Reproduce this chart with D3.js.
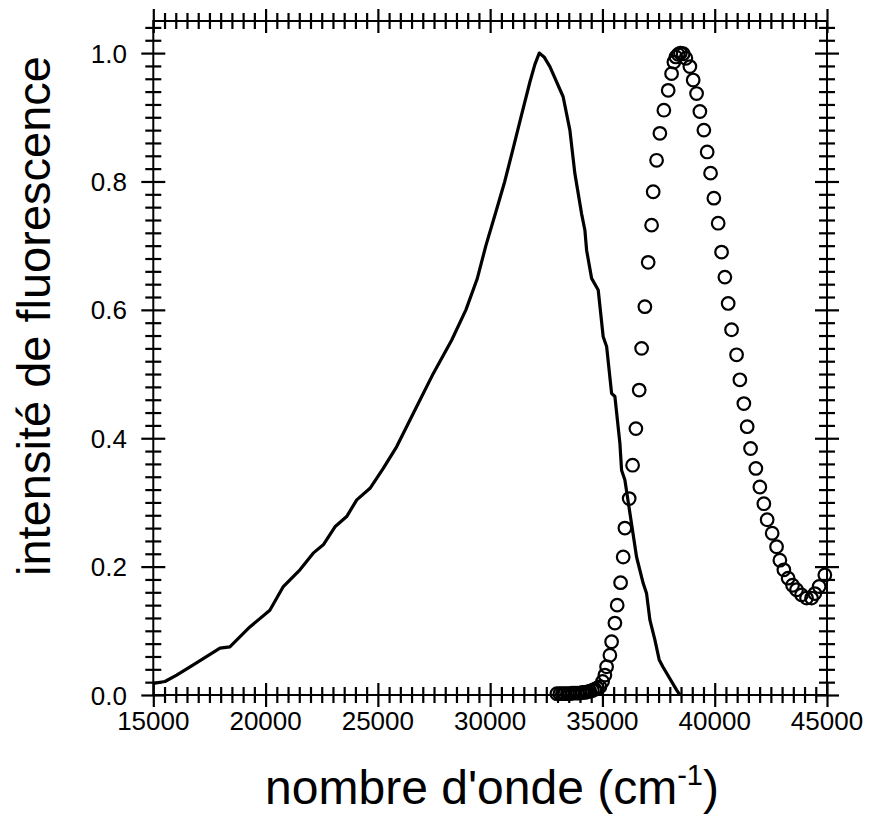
<!DOCTYPE html>
<html>
<head>
<meta charset="utf-8">
<script src="https://cdn.jsdelivr.net/npm/d3@7/dist/d3.min.js"></script>
<style>
  body { margin: 0; background: #fff; }
  text { font-family: "Liberation Sans", Arial, Helvetica, sans-serif; fill: #000; }
</style>
</head>
<body>
<svg id="chart" width="874" height="834"></svg>
<script>
// Emission spectrum (solid line): wavenumber (cm-1) and normalised intensity
const emissionX = [15000, 15520, 16040, 16780, 17970, 18410, 19300, 20190, 20790, 21530,
  22120, 22570, 23090, 23610, 24060, 24650, 25240, 25840, 26580, 27470,
  28290, 28920, 29420, 29810, 30250, 30650, 31050, 31370, 31770, 31990,
  32185, 32400, 32660, 33250, 33550, 33770, 34070, 34220, 34295, 34518,
  34812, 35034, 35186, 35408, 35555, 35778, 35853, 36000, 36520, 36815,
  36966, 37113, 37336, 37527, 37690, 38300, 38450];
const emissionY = [0.018, 0.021, 0.031, 0.047, 0.073, 0.075, 0.106, 0.132, 0.169, 0.195,
  0.221, 0.234, 0.262, 0.278, 0.304, 0.322, 0.353, 0.387, 0.439, 0.501,
  0.553, 0.600, 0.648, 0.700, 0.752, 0.800, 0.855, 0.900, 0.955, 0.982,
  1.000, 0.994, 0.979, 0.932, 0.880, 0.813, 0.750, 0.724, 0.693, 0.649,
  0.631, 0.558, 0.543, 0.470, 0.465, 0.392, 0.350, 0.335, 0.215, 0.174,
  0.158, 0.117, 0.086, 0.055, 0.044, 0.008, 0.000];

// Excitation spectrum (open circles)
const excitationX = [32973, 33106, 33218, 33329, 33440, 33551, 33663, 33774, 33885, 33997,
  34108, 34219, 34331, 34442, 34553, 34665, 34776, 34887, 35007, 35110,
  35185, 35332, 35408, 35555, 35657, 35809, 35924, 36000, 36191, 36343,
  36490, 36637, 36744, 36890, 37037, 37189, 37260, 37411, 37558, 37736,
  37928, 38079, 38182, 38271, 38373, 38471, 38596, 38716, 38894, 39041,
  39192, 39339, 39517, 39664, 39815, 39962, 40154, 40305, 40452, 40599,
  40750, 40973, 41120, 41298, 41445, 41596, 41832, 42010, 42188, 42335,
  42558, 42754, 42901, 43079, 43270, 43466, 43644, 43867, 44089, 44312,
  44459, 44650, 44904];
const excitationY = [0.002, 0.002, 0.002, 0.002, 0.002, 0.002, 0.003, 0.003, 0.003, 0.003,
  0.004, 0.004, 0.005, 0.006, 0.007, 0.009, 0.011, 0.013, 0.021, 0.031,
  0.044, 0.062, 0.083, 0.112, 0.140, 0.175, 0.215, 0.260, 0.306, 0.358,
  0.415, 0.475, 0.540, 0.605, 0.674, 0.732, 0.784, 0.833, 0.875, 0.911,
  0.942, 0.968, 0.986, 0.994, 0.998, 1.000, 0.999, 0.992, 0.979, 0.958,
  0.937, 0.909, 0.880, 0.846, 0.813, 0.774, 0.735, 0.690, 0.651, 0.610,
  0.569, 0.530, 0.491, 0.454, 0.418, 0.384, 0.353, 0.324, 0.298, 0.273,
  0.252, 0.231, 0.210, 0.195, 0.182, 0.171, 0.164, 0.156, 0.151, 0.151,
  0.158, 0.169, 0.187];

// Axis ticks and labels
const xTickValues = [15000, 20000, 25000, 30000, 35000, 40000, 45000];
const xTickLabels = ["15000", "20000", "25000", "30000", "35000", "40000", "45000"];
const yTickValues = [0, 0.2, 0.4, 0.6, 0.8, 1.0];
const yTickLabels = ["0.0", "0.2", "0.4", "0.6", "0.8", "1.0"];
const xMinorStep = 500;
const yMinorStep = 0.02;

const svg = d3.select("#chart");
const plot = { left: 153.3, right: 827, top: 21, bottom: 695 };

const x = d3.scaleLinear().domain([15000, 45000]).range([plot.left, plot.right]);
const y = d3.scaleLinear().domain([0, 1.05]).range([plot.bottom, plot.top]);

const xMinor = d3.range(15000, 45000 + 1, xMinorStep).filter(v => !xTickValues.includes(v));
const yMinor = d3.range(0, 1.05 + 1e-9, yMinorStep)
  .map(v => +v.toFixed(2))
  .filter(v => !yTickValues.some(t => Math.abs(t - v) < 1e-6));

// Frame
svg.append("rect")
  .attr("x", plot.left).attr("y", plot.top)
  .attr("width", plot.right - plot.left).attr("height", plot.bottom - plot.top)
  .attr("fill", "none").attr("stroke", "#000").attr("stroke-width", 2);

// Ticks that straddle each side of the frame
function crossTicks(axisFn, scale, values, half, translate, horizontal) {
  const g = svg.append("g").attr("transform", translate)
    .call(axisFn(scale).tickValues(values).tickSize(half).tickFormat(""));
  g.select(".domain").remove();
  g.selectAll(".tick line").attr("stroke", "#000").attr("stroke-width", 2.2)
    .each(function () {
      const l = d3.select(this);
      if (horizontal) l.attr("x1", -half).attr("x2", half);
      else l.attr("y1", -half).attr("y2", half);
    });
}
[[d3.axisBottom, plot.bottom], [d3.axisTop, plot.top]].forEach(([fn, pos]) => {
  crossTicks(fn, x, xMinor, 8, `translate(0,${pos})`, false);
  crossTicks(fn, x, xTickValues, 12, `translate(0,${pos})`, false);
});
[[d3.axisLeft, plot.left], [d3.axisRight, plot.right]].forEach(([fn, pos]) => {
  crossTicks(fn, y, yMinor, 8, `translate(${pos},0)`, true);
  crossTicks(fn, y, yTickValues, 12, `translate(${pos},0)`, true);
});

// Tick labels
svg.append("g").selectAll("text").data(xTickValues).join("text")
  .attr("x", d => x(d)).attr("y", 730)
  .attr("text-anchor", "middle").attr("font-size", 26)
  .text((d, i) => xTickLabels[i]);
svg.append("g").selectAll("text").data(yTickValues).join("text")
  .attr("x", 127).attr("y", d => y(d) + 9.5)
  .attr("text-anchor", "end").attr("font-size", 26)
  .text((d, i) => yTickLabels[i]);

// Axis titles
svg.append("text")
  .attr("transform", "translate(50,316) rotate(-90)")
  .attr("text-anchor", "middle").attr("font-size", 47)
  .text("intensité de fluorescence");
const xt = svg.append("text")
  .attr("x", 492).attr("y", 804)
  .attr("text-anchor", "middle").attr("font-size", 48);
xt.append("tspan").text("nombre d'onde (cm");
xt.append("tspan").attr("font-size", 29).attr("dy", -19).text("-1");
xt.append("tspan").attr("dy", 19).text(")");

// Emission curve
const emission = emissionX.map((v, i) => [v, emissionY[i]]);
svg.append("path")
  .datum(emission)
  .attr("fill", "none").attr("stroke", "#000").attr("stroke-width", 3.2)
  .attr("stroke-linejoin", "round")
  .attr("d", d3.line().x(d => x(d[0])).y(d => y(d[1])));

// Excitation points
const excitation = excitationX.map((v, i) => [v, excitationY[i]]);
svg.append("g").selectAll("circle").data(excitation).join("circle")
  .attr("cx", d => x(d[0])).attr("cy", d => y(d[1])).attr("r", 6.3)
  .attr("fill", "none").attr("stroke", "#000").attr("stroke-width", 2.2);
</script>
</body>
</html>
